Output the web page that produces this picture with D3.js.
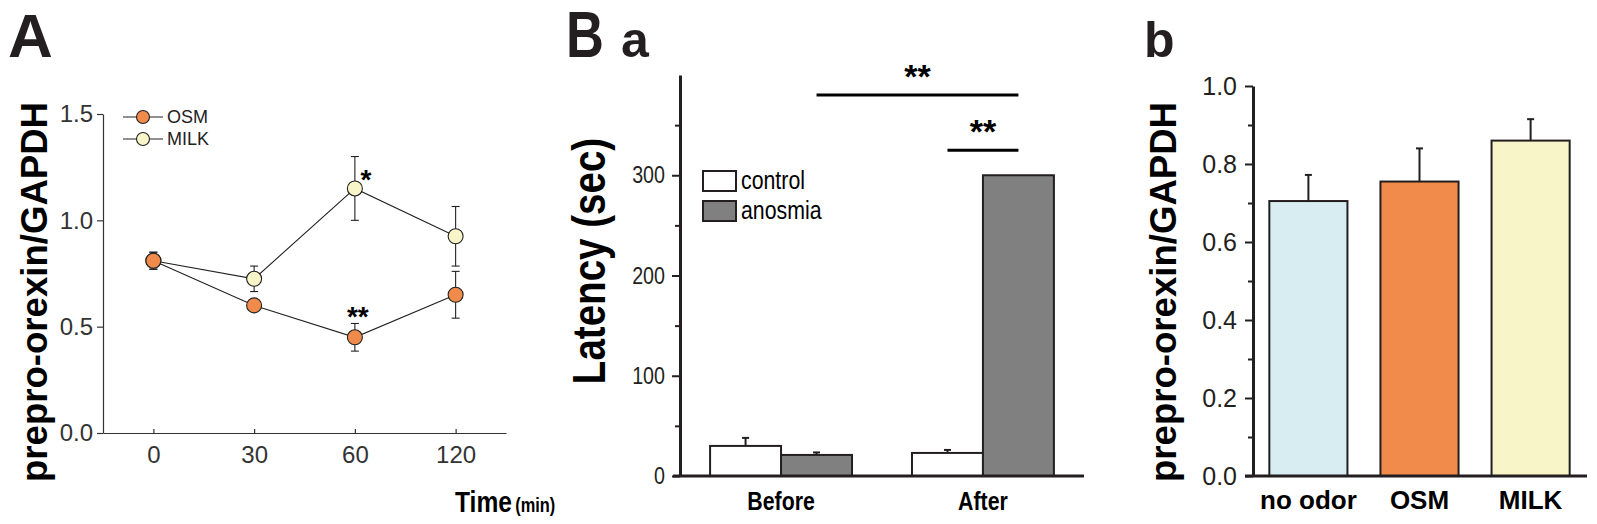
<!DOCTYPE html>
<html>
<head>
<meta charset="utf-8">
<script src="https://cdn.jsdelivr.net/npm/d3@7"></script>
<style>
  body { margin: 0; background: #fff; }
  svg { display: block; }
</style>
</head>
<body>
<svg id="chart" width="1597" height="524"></svg>
<script>
// ---- panel A: prepro-orexin over time ----
const timePoints = ["0", "30", "60", "120"];
const osmMean = [0.81, 0.60, 0.45, 0.65];
const osmErr = [0.04, 0.02, 0.065, 0.11];
const milkMean = [0.81, 0.725, 1.15, 0.925];
const milkErr = [0.04, 0.06, 0.15, 0.14];
const expressionTicksA = [0, 0.5, 1.0, 1.5];

// ---- panel B a: latency ----
const latencyGroups = ["Before", "After"];
const latencyConditions = ["control", "anosmia"];
const controlLatency = [30, 23];
const controlLatencyErr = [8, 3];
const anosmiaLatency = [21, 300];
const anosmiaLatencyErr = [2.5, 0];
const latencyTicks = [0, 50, 100, 150, 200, 250, 300, 350];

// ---- panel B b: prepro-orexin by odor ----
const odorGroups = ["no odor", "OSM", "MILK"];
const odorMean = [0.705, 0.755, 0.86];
const odorErr = [0.067, 0.085, 0.055];
const expressionTicksB = [0, 0.1, 0.2, 0.3, 0.4, 0.5, 0.6, 0.7, 0.8, 0.9, 1.0];

const dark = "#231f20";
const plainFont = "'Liberation Sans', Arial, Helvetica, sans-serif";
const osmColor = "#f08b4b";
const milkColor = "#f8f5c9";
const noOdorColor = "#d8edf1";
const narrow = 0.82; // no condensed face installed, so squeeze the glyphs instead

let svg = d3.select("#chart");

// squeeze text horizontally about its own origin, keeping its anchor point
let condense = (sel, k = narrow) => {
  sel.each(function() {
    let t = d3.select(this);
    let x = +t.attr("x") || 0;
    let prev = t.attr("transform") || "";
    t.attr("x", x / k).attr("transform", `${prev} scale(${k},1)`.trim());
  });
};

let panelLetter = (text, x, y, size) => {
  return svg.append("text")
            .attr("x", x)
            .attr("y", y)
            .style("font-family", plainFont)
            .style("font-weight", "bold")
            .style("font-size", size + "px")
            .style("fill", dark)
            .text(text);
};

let rotatedLabel = (text, x, y, size) => {
  return svg.append("text")
            .attr("transform", `translate(${x},${y}) rotate(-90)`)
            .style("text-anchor", "middle")
            .style("font-family", plainFont)
            .style("font-weight", "bold")
            .style("font-size", size + "px")
            .style("fill", "#000")
            .text(text);
};

function drawPanelA() {
  let g = svg.append("g").attr("class", "panel-a");
  let x = d3.scalePoint().domain(timePoints).range([103, 506]).padding(0.5);
  let y = d3.scaleLinear().domain([0, 1.5]).range([433, 114]);

  let styleAxis = (axisG) => {
    axisG.selectAll("path, line").attr("stroke", "#333").attr("stroke-width", 1.2);
    axisG.selectAll("text")
         .style("font-family", plainFont)
         .style("font-size", "24px")
         .style("fill", "#333");
  };

  g.append("g")
   .attr("transform", "translate(103,0)")
   .call(d3.axisLeft(y).tickValues(expressionTicksA).tickFormat(d3.format(".1f"))
           .tickSizeInner(6).tickSizeOuter(0).tickPadding(4))
   .call(styleAxis);

  g.append("g")
   .attr("transform", "translate(0,433)")
   .call(d3.axisBottom(x).tickSizeInner(-4).tickSizeOuter(0).tickPadding(13))
   .call(styleAxis);

  let series = [
    { name: "MILK", mean: milkMean, err: milkErr, fill: milkColor },
    { name: "OSM", mean: osmMean, err: osmErr, fill: osmColor }
  ];

  let line = d3.line()
               .x((d, i) => x(timePoints[i]))
               .y((d) => y(d));

  series.forEach((s) => {
    let sg = g.append("g").attr("class", "series-" + s.name);
    sg.append("path")
      .attr("d", line(s.mean))
      .attr("fill", "none")
      .attr("stroke", "#222")
      .attr("stroke-width", 1.1);

    let points = s.mean.map((m, i) => ({ t: timePoints[i], m: m, e: s.err[i] }));
    let bars = sg.selectAll(".err").data(points).enter().append("g").attr("class", "err");
    bars.append("line")
        .attr("x1", (d) => x(d.t)).attr("x2", (d) => x(d.t))
        .attr("y1", (d) => y(d.m - d.e)).attr("y2", (d) => y(d.m + d.e));
    [-1, 1].forEach((sign) => {
      bars.append("line")
          .attr("x1", (d) => x(d.t) - 4).attr("x2", (d) => x(d.t) + 4)
          .attr("y1", (d) => y(d.m + sign * d.e)).attr("y2", (d) => y(d.m + sign * d.e));
    });
    bars.selectAll("line").attr("stroke", "#222").attr("stroke-width", 1.1);

    sg.selectAll("circle")
      .data(points)
      .enter()
      .append("circle")
      .attr("cx", (d) => x(d.t))
      .attr("cy", (d) => y(d.m))
      .attr("r", 7.5)
      .attr("fill", s.fill)
      .attr("stroke", "#222")
      .attr("stroke-width", 1.1);
  });

  // significance marks at 60 min
  let starStyle = (sel) => sel.style("font-family", plainFont).style("font-weight", "bold")
                              .style("font-size", "28px").style("fill", "#000");
  g.append("text")
   .attr("x", x("60") + 11).attr("y", y(milkMean[2]) + 1)
   .style("text-anchor", "middle").call(starStyle).text("*");
  g.append("text")
   .attr("x", x("60") + 3).attr("y", y(osmMean[2] + osmErr[2]) + 3)
   .style("text-anchor", "middle").call(starStyle).text("**");

  // legend
  let legend = g.selectAll(".legend-a")
                .data(["OSM", "MILK"])
                .enter()
                .append("g")
                .attr("class", "legend-a")
                .attr("transform", (el, index) => `translate(123,${117 + index * 22})`);
  legend.append("line").attr("x1", 0).attr("x2", 40).attr("stroke", "#222").attr("stroke-width", 1.1);
  legend.append("circle")
        .attr("cx", 20).attr("r", 6.5)
        .attr("fill", (d) => d === "OSM" ? osmColor : milkColor)
        .attr("stroke", "#222").attr("stroke-width", 1.1);
  legend.append("text")
        .attr("x", 44).attr("y", 6)
        .style("font-family", plainFont).style("font-size", "18px").style("fill", "#222")
        .text((d) => d);

  // axis titles
  rotatedLabel("prepro-orexin/GAPDH", 47, 292, 36)
    .attr("textLength", 380).attr("lengthAdjust", "spacingAndGlyphs");
  let timeTitle = g.append("text")
                   .attr("x", 455).attr("y", 512)
                   .style("font-family", plainFont).style("font-weight", "bold").style("fill", "#000");
  timeTitle.append("tspan").style("font-size", "30px").text("Time");
  timeTitle.append("tspan").attr("dx", 4).style("font-size", "20px").text("(min)");
  condense(timeTitle);
}

function drawPanelBa() {
  let g = svg.append("g").attr("class", "panel-ba");
  let x0 = d3.scaleBand().domain(latencyGroups).range([680, 1084]).paddingInner(0.297).paddingOuter(0.149);
  let x1 = d3.scaleBand().domain(latencyConditions).range([0, x0.bandwidth()]);
  let y = d3.scaleLinear().domain([0, 400]).range([476, 75]);
  let fills = { control: "#ffffff", anosmia: "#808080" };

  let rows = latencyGroups.flatMap((grp, i) => [
    { grp: grp, cond: "control", v: controlLatency[i], e: controlLatencyErr[i] },
    { grp: grp, cond: "anosmia", v: anosmiaLatency[i], e: anosmiaLatencyErr[i] }
  ]);

  // error bars (upward only) sit behind the bars
  let errs = g.selectAll(".err").data(rows.filter((d) => d.e > 0)).enter().append("g").attr("class", "err");
  let cx = (d) => x0(d.grp) + x1(d.cond) + x1.bandwidth() / 2;
  errs.append("line")
      .attr("x1", cx).attr("x2", cx)
      .attr("y1", (d) => y(d.v)).attr("y2", (d) => y(d.v + d.e));
  errs.append("line")
      .attr("x1", (d) => cx(d) - 3.5).attr("x2", (d) => cx(d) + 3.5)
      .attr("y1", (d) => y(d.v + d.e)).attr("y2", (d) => y(d.v + d.e));
  errs.selectAll("line").attr("stroke", dark).attr("stroke-width", 2);

  g.selectAll(".bar")
   .data(rows)
   .enter()
   .append("rect")
   .attr("class", "bar")
   .attr("x", (d) => x0(d.grp) + x1(d.cond))
   .attr("y", (d) => y(d.v))
   .attr("width", x1.bandwidth())
   .attr("height", (d) => y(0) - y(d.v))
   .attr("fill", (d) => fills[d.cond])
   .attr("stroke", dark)
   .attr("stroke-width", 2);

  let yAxisG = g.append("g")
                .attr("transform", "translate(680,0)")
                .call(d3.axisLeft(y).tickValues(latencyTicks)
                        .tickFormat((d) => d % 100 === 0 ? d : "")
                        .tickSizeOuter(0).tickPadding(5));
  yAxisG.selectAll(".tick line").attr("x2", (d) => d % 100 === 0 ? -8 : -5);
  yAxisG.selectAll("text").attr("x", -15);

  let xAxisG = g.append("g")
                .attr("transform", "translate(0,476)")
                .call(d3.axisBottom(x0).tickSize(0).tickSizeOuter(0).tickPadding(16));
  xAxisG.select(".domain").attr("d", "M673,0H1084");

  [yAxisG, xAxisG].forEach((a) => {
    a.selectAll("path, line").attr("stroke", dark).attr("stroke-width", 3);
    a.selectAll(".tick line").attr("stroke-width", 2);
    a.selectAll("text").style("font-family", plainFont).style("font-size", "24px").style("fill", dark);
    condense(a.selectAll("text"));
  });
  xAxisG.selectAll("text").style("font-weight", "bold").style("font-size", "26px").style("fill", "#000");

  // significance brackets
  let sigMarks = [
    { from: ["Before", "anosmia"], to: ["After", "anosmia"], level: 380 },
    { from: ["After", "control"], to: ["After", "anosmia"], level: 325 }
  ];
  let at = (pair) => x0(pair[0]) + x1(pair[1]) + x1.bandwidth() / 2;
  let sig = g.selectAll(".sig").data(sigMarks).enter().append("g").attr("class", "sig");
  sig.append("line")
     .attr("x1", (d) => at(d.from)).attr("x2", (d) => at(d.to))
     .attr("y1", (d) => y(d.level)).attr("y2", (d) => y(d.level))
     .attr("stroke", "#000").attr("stroke-width", 3);
  sig.append("text")
     .attr("x", (d) => (at(d.from) + at(d.to)) / 2)
     .attr("y", (d) => y(d.level) - 7)
     .style("text-anchor", "middle")
     .style("font-family", plainFont).style("font-weight", "bold").style("font-size", "34px")
     .text("**");

  // legend
  let legend = g.selectAll(".legend-ba")
                .data(latencyConditions)
                .enter()
                .append("g")
                .attr("class", "legend-ba")
                .attr("transform", (el, index) => `translate(703,${171 + index * 30})`);
  legend.append("rect")
        .attr("width", 33).attr("height", 20)
        .attr("fill", (d) => fills[d]).attr("stroke", dark).attr("stroke-width", 2);
  legend.append("text")
        .attr("x", 38).attr("y", 18)
        .style("font-family", plainFont).style("font-size", "26px").style("fill", "#000")
        .text((d) => d)
        .call(condense);

  rotatedLabel("Latency (sec)", 605, 261, 47).call(condense);
}

function drawPanelBb() {
  let g = svg.append("g").attr("class", "panel-bb");
  let x = d3.scaleBand().domain(odorGroups).range([1253, 1586]).paddingInner(0.297).paddingOuter(0.147);
  let y = d3.scaleLinear().domain([0, 1]).range([476, 86]);
  let fills = [noOdorColor, osmColor, milkColor];
  let rows = odorGroups.map((grp, i) => ({ grp: grp, v: odorMean[i], e: odorErr[i], fill: fills[i] }));
  let cx = (d) => x(d.grp) + x.bandwidth() / 2;

  let errs = g.selectAll(".err").data(rows).enter().append("g").attr("class", "err");
  errs.append("line")
      .attr("x1", cx).attr("x2", cx)
      .attr("y1", (d) => y(d.v)).attr("y2", (d) => y(d.v + d.e));
  errs.append("line")
      .attr("x1", (d) => cx(d) - 3.5).attr("x2", (d) => cx(d) + 3.5)
      .attr("y1", (d) => y(d.v + d.e)).attr("y2", (d) => y(d.v + d.e));
  errs.selectAll("line").attr("stroke", dark).attr("stroke-width", 2);

  g.selectAll(".bar")
   .data(rows)
   .enter()
   .append("rect")
   .attr("class", "bar")
   .attr("x", (d) => x(d.grp))
   .attr("y", (d) => y(d.v))
   .attr("width", x.bandwidth())
   .attr("height", (d) => y(0) - y(d.v))
   .attr("fill", (d) => d.fill)
   .attr("stroke", dark)
   .attr("stroke-width", 2);

  let yAxisG = g.append("g")
                .attr("transform", "translate(1253,0)")
                .call(d3.axisLeft(y).tickValues(expressionTicksB)
                        .tickFormat((d) => Math.round(d * 10) % 2 === 0 ? d3.format(".1f")(d) : "")
                        .tickSizeOuter(0));
  yAxisG.selectAll(".tick line").attr("x2", (d) => Math.round(d * 10) % 2 === 0 ? -8 : -5);
  yAxisG.selectAll("text").attr("x", -16);

  let xAxisG = g.append("g")
                .attr("transform", "translate(0,476)")
                .call(d3.axisBottom(x).tickSize(0).tickSizeOuter(0).tickPadding(15));
  xAxisG.select(".domain").attr("d", "M1245,0H1587");

  [yAxisG, xAxisG].forEach((a) => {
    a.selectAll("path, line").attr("stroke", dark).attr("stroke-width", 3);
    a.selectAll(".tick line").attr("stroke-width", 2);
    a.selectAll("text").style("font-family", plainFont).style("font-size", "25px").style("fill", dark);
  });
  xAxisG.selectAll("text").style("font-weight", "bold").style("font-size", "26px").style("fill", "#000");

  rotatedLabel("prepro-orexin/GAPDH", 1176, 292, 36)
    .attr("textLength", 380).attr("lengthAdjust", "spacingAndGlyphs");
}

drawPanelA();
drawPanelBa();
drawPanelBb();

panelLetter("A", 8, 57, 62);
panelLetter("B", 566, 57, 64).call(condense);
panelLetter("a", 621, 57, 50);
panelLetter("b", 1144, 57, 50);
</script>
</body>
</html>
